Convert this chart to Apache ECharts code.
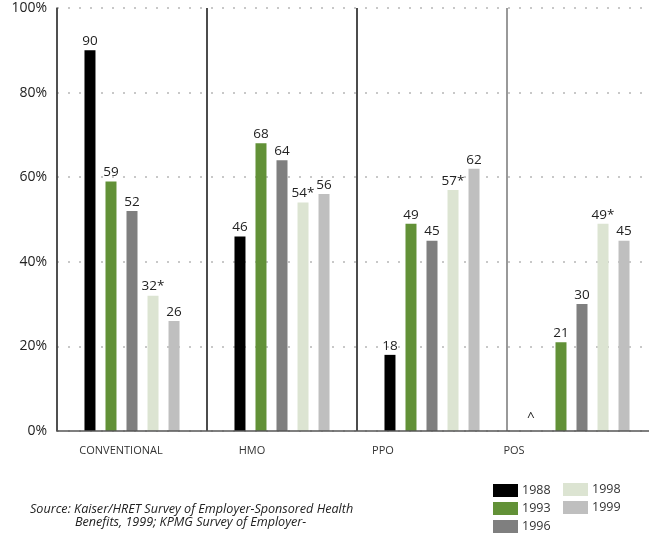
<!DOCTYPE html>
<html>
<head>
<meta charset="utf-8">
<script src="https://cdn.jsdelivr.net/npm/echarts@6/dist/echarts.min.js"></script>
<style>
  html, body { margin: 0; padding: 0; background: #ffffff; }
  #chart { width: 649px; height: 533px; }
</style>
</head>
<body>
<div id="chart"></div>
<script>
// Plan types along the x axis
const categories = ['CONVENTIONAL', 'HMO', 'PPO', 'POS'];

// Share of covered workers by plan type (%), one array per survey year
const years = ['1988', '1993', '1996', '1998', '1999'];
const values1988 = [90, 46, 18, 0];
const values1993 = [59, 68, 49, 21];
const values1996 = [52, 64, 45, 30];
const values1998 = [32, 54, 57, 49];
const values1999 = [26, 56, 62, 45];

// Footnote markers appended to labels
const suffix1998 = ['*', '*', '*', '*'];
const notAvailable1988 = [false, false, false, true];

// Y axis ticks
const yTicks = [0, 20, 40, 60, 80, 100];

const colors = ['#000000', '#629137', '#7f7f7f', '#dce4d2', '#bfbfbf'];
const FONT = '"Open Sans", "Noto Sans", sans-serif';

function buildData(vals, suffix, na) {
  return vals.map(function (v, i) {
    const item = { value: v };
    let txt = String(v) + (suffix ? suffix[i] : '');
    item.label = { formatter: txt };
    if (na && na[i]) {
      // not surveyed: caret marker in place of a value
      item.label = { formatter: '^', offset: [-9, -5] };
    }
    return item;
  });
}

const seriesValues = [values1988, values1993, values1996, values1998, values1999];
const seriesSuffix = [null, null, null, suffix1998, null];
const seriesNA = [notAvailable1988, null, null, null, null];

const series = years.map(function (y, k) {
  return {
    name: y,
    type: 'bar',
    xAxisIndex: 0,
    yAxisIndex: 0,
    barWidth: 11,
    barGap: '91%',
    itemStyle: { color: colors[k] },
    label: {
      show: true,
      position: 'top',
      distance: 2,
      color: '#222222',
      fontFamily: FONT,
      fontSize: 13.5
    },
    data: buildData(seriesValues[k], seriesSuffix[k], seriesNA[k])
  };
});

const chart = echarts.init(document.getElementById('chart'), null, { renderer: 'canvas' });

chart.setOption({
  animation: false,
  backgroundColor: '#ffffff',
  color: colors,
  textStyle: { fontFamily: FONT },
  grid: [
    { left: 57, width: 600, top: 8, bottom: 102, outerBoundsMode: 'none' },
    { left: 55.5, width: 524, top: 8, bottom: 102, outerBoundsMode: 'none' }
  ],
  xAxis: [
    {
      type: 'category',
      gridIndex: 0,
      data: categories,
      boundaryGap: true,
      axisLine: { show: true, lineStyle: { color: '#555555', width: 1.5 } },
      axisTick: { show: false },
      axisLabel: { show: false },
      splitLine: {
        show: true,
        lineStyle: { color: ['#444444', '#111111', '#111111', '#777777', '#777777'], width: 1.5 }
      },
      z: 3
    },
    {
      // category captions set on their own spacing below the plot
      type: 'category',
      gridIndex: 1,
      data: categories,
      boundaryGap: true,
      axisLine: { show: false },
      axisTick: { show: false },
      splitLine: { show: false },
      axisLabel: {
        show: true,
        margin: 14,
        color: '#333333',
        fontFamily: FONT,
        fontSize: 11
      }
    }
  ],
  yAxis: [
    {
      type: 'value',
      gridIndex: 0,
      min: yTicks[0],
      max: yTicks[yTicks.length - 1],
      interval: 20,
      axisLine: { show: true, lineStyle: { color: '#444444', width: 1.5 } },
      axisTick: { show: false },
      axisLabel: {
        formatter: '{value}%',
        color: '#222222',
        fontFamily: FONT,
        fontSize: 14,
        margin: 10
      },
      splitLine: {
        show: true,
        lineStyle: { color: '#c8c8c8', width: 2, type: [2, 9] }
      }
    },
    {
      type: 'value',
      gridIndex: 1,
      show: false,
      min: 0,
      max: 100
    }
  ],
  legend: [
    {
      data: ['1988', '1993', '1996'],
      orient: 'vertical',
      left: 493,
      top: 484,
      itemWidth: 25,
      itemHeight: 13,
      itemGap: 5,
      padding: 0,
      icon: 'rect',
      textStyle: { color: '#333333', fontFamily: FONT, fontSize: 12.5, padding: [0, 0, 0, -1] }
    },
    {
      data: ['1998', '1999'],
      orient: 'vertical',
      left: 563,
      top: 483,
      itemWidth: 25,
      itemHeight: 13,
      itemGap: 5,
      padding: 0,
      icon: 'rect',
      textStyle: { color: '#333333', fontFamily: FONT, fontSize: 12.5, padding: [0, 0, 0, -1] }
    }
  ],
  graphic: [
    {
      type: 'text',
      left: 30,
      top: 503,
      style: {
        text: 'Source: Kaiser/HRET Survey of Employer-Sponsored Health',
        fill: '#222222',
        font: 'italic 12.6px ' + FONT
      }
    },
    {
      type: 'text',
      left: 75,
      top: 516,
      style: {
        text: 'Benefits, 1999; KPMG Survey of Employer-',
        fill: '#222222',
        font: 'italic 12.6px ' + FONT
      }
    }
  ],
  series: series
});
</script>
</body>
</html>
